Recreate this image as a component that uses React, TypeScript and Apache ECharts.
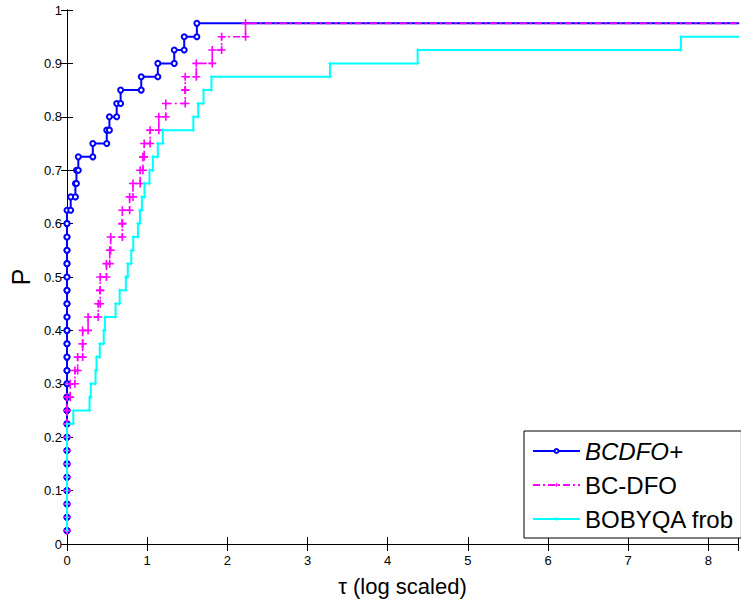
import React, { useEffect, useRef } from "react";
import * as echarts from "echarts";

// Number of problems in the profile
const N_PROBLEMS = 40;
const X_MAX = 8.37;
const X_EXTEND = 8.6;

// log2 performance ratios (sorted) at which each solver solves one more problem
const bcdfoPlusTaus = [
  0, 0, 0, 0, 0, 0, 0, 0, 0, 0, 0, 0, 0, 0, 0, 0, 0, 0, 0, 0, 0, 0, 0, 0, 0,
  0.046, 0.105, 0.118, 0.141, 0.322, 0.496, 0.529, 0.62, 0.669, 0.926, 1.133,
  1.338, 1.462, 1.62,
];
const bcDfoTaus = [
  0, 0, 0, 0, 0, 0, 0, 0, 0, 0, 0, 0.04, 0.099, 0.133, 0.195, 0.195, 0.263,
  0.389, 0.414, 0.414, 0.492, 0.533, 0.545, 0.69, 0.69, 0.781, 0.823, 0.913,
  0.947, 0.963, 1.037, 1.145, 1.232, 1.475, 1.475, 1.613, 1.812, 1.929, 2.227,
];
const bobyqaTaus = [
  0, 0, 0, 0, 0, 0, 0, 0, 0, 0.079, 0.281, 0.297, 0.356, 0.368, 0.409, 0.458,
  0.473, 0.606, 0.657, 0.734, 0.758, 0.802, 0.827, 0.885, 0.91, 0.934, 0.967,
  1.029, 1.071, 1.133, 1.195, 1.576, 1.636, 1.703, 1.802, 3.28, 4.374, 7.658,
];

const seriesNames = ["BCDFO+", "BC-DFO", "BOBYQA frob"];
const xTickValues = [0, 1, 2, 3, 4, 5, 6, 7, 8];

function stairs(taus: number[]): [number, number][] {
  const pts: [number, number][] = [];
  taus.forEach((t, i) => {
    if (i > 0) pts.push([t, i / N_PROBLEMS]);
    pts.push([t, (i + 1) / N_PROBLEMS]);
  });
  pts.push([X_EXTEND, taus.length / N_PROBLEMS]);
  return pts;
}

const FONT = "'Liberation Sans', Arial, Helvetica, sans-serif";
const PLUS = "path://M4,0H6V4H10V6H6V10H4V6H0V4H4Z";

export default function App() {
  const ref = useRef<HTMLDivElement>(null);
  useEffect(() => {
    if (!ref.current) return;
    const chart = echarts.init(ref.current, undefined, { renderer: "svg" });
    const axisLine = { show: true, lineStyle: { color: "#000", width: 1 } };
    const xLabelFmt = (v: number) =>
      xTickValues.includes(Math.round(v * 1000) / 1000) ? String(Math.round(v)) : "";
    chart.setOption({
      animation: false,
      backgroundColor: "#fff",
      textStyle: { fontFamily: FONT },
      grid: { left: 65, top: 10, right: 1, bottom: 55 },
      legend: {
        orient: "vertical",
        left: 524,
        top: 431,
        padding: [8, 7, 7, 8],
        itemGap: 10,
        itemWidth: 47,
        itemHeight: 5,
        borderColor: "#000",
        borderWidth: 1,
        borderRadius: 0,
        backgroundColor: "#fff",
        data: seriesNames,
        formatter: (name: string) => (name === "BCDFO+" ? `{i|${name}}` : name),
        textStyle: {
          fontFamily: FONT,
          fontSize: 24,
          color: "#000",
          rich: { i: { fontStyle: "italic", fontSize: 24, fontFamily: FONT, color: "#000" } },
        },
      },
      xAxis: [
        {
          type: "value",
          min: 0,
          max: X_MAX,
          interval: 1,
          position: "bottom",
          name: "τ (log scaled)",
          nameLocation: "middle",
          nameGap: 31,
          nameTextStyle: { fontSize: 22, color: "#000", fontFamily: FONT },
          axisLine,
          axisTick: { show: true, inside: true, length: 7, lineStyle: { color: "#000" } },
          axisLabel: { formatter: xLabelFmt, color: "#000", fontSize: 13, margin: 10, fontFamily: FONT },
          splitLine: { show: false },
        },
        {
          type: "value",
          min: 0,
          max: X_MAX,
          interval: 1,
          position: "top",
          axisLine,
          axisTick: { show: true, inside: true, length: 7, lineStyle: { color: "#000" } },
          axisLabel: { show: false },
          splitLine: { show: false },
        },
      ],
      yAxis: [
        {
          type: "value",
          min: 0,
          max: 1,
          interval: 0.1,
          position: "left",
          name: "P",
          nameLocation: "middle",
          nameGap: 34,
          nameRotate: 90,
          nameTextStyle: { fontSize: 25, color: "#000", fontFamily: FONT },
          axisLine,
          axisTick: { show: true, inside: true, length: 6, lineStyle: { color: "#000" } },
          axisLabel: {
            formatter: (v: number) => String(Math.round(v * 10) / 10),
            color: "#000",
            fontSize: 13,
            margin: 5,
            fontFamily: FONT,
          },
          splitLine: { show: false },
        },
        {
          type: "value",
          min: 0,
          max: 1,
          interval: 0.1,
          position: "right",
          axisLine,
          axisTick: { show: true, inside: true, length: 6, lineStyle: { color: "#000" } },
          axisLabel: { show: false },
          splitLine: { show: false },
        },
      ],
      series: [
        {
          name: seriesNames[0],
          type: "line",
          data: stairs(bcdfoPlusTaus),
          symbol: "emptyCircle",
          symbolSize: 5,
          showSymbol: true,
          lineStyle: { color: "#0000ff", width: 2 },
          itemStyle: { color: "#0000ff", borderColor: "#0000ff", borderWidth: 1.2 },
          clip: true,
          z: 2,
        },
        {
          name: seriesNames[1],
          type: "line",
          data: stairs(bcDfoTaus),
          symbol: PLUS,
          symbolSize: 8,
          showSymbol: true,
          lineStyle: { color: "#ff00ff", width: 1.6, type: [7, 3, 2, 3] },
          itemStyle: { color: "#ff00ff", borderWidth: 0 },
          clip: true,
          z: 3,
        },
        {
          name: seriesNames[2],
          type: "line",
          data: stairs(bobyqaTaus),
          symbol: PLUS,
          symbolSize: 4,
          showSymbol: true,
          lineStyle: { color: "#00ffff", width: 2 },
          itemStyle: { color: "#00ffff", borderWidth: 0 },
          clip: true,
          z: 4,
        },
      ],
    });
    return () => chart.dispose();
  }, []);
  return (
    <div
      ref={ref}
      style={{ position: "fixed", left: 0, top: 0, width: 741, height: 602, background: "#fff" }}
    />
  );
}
